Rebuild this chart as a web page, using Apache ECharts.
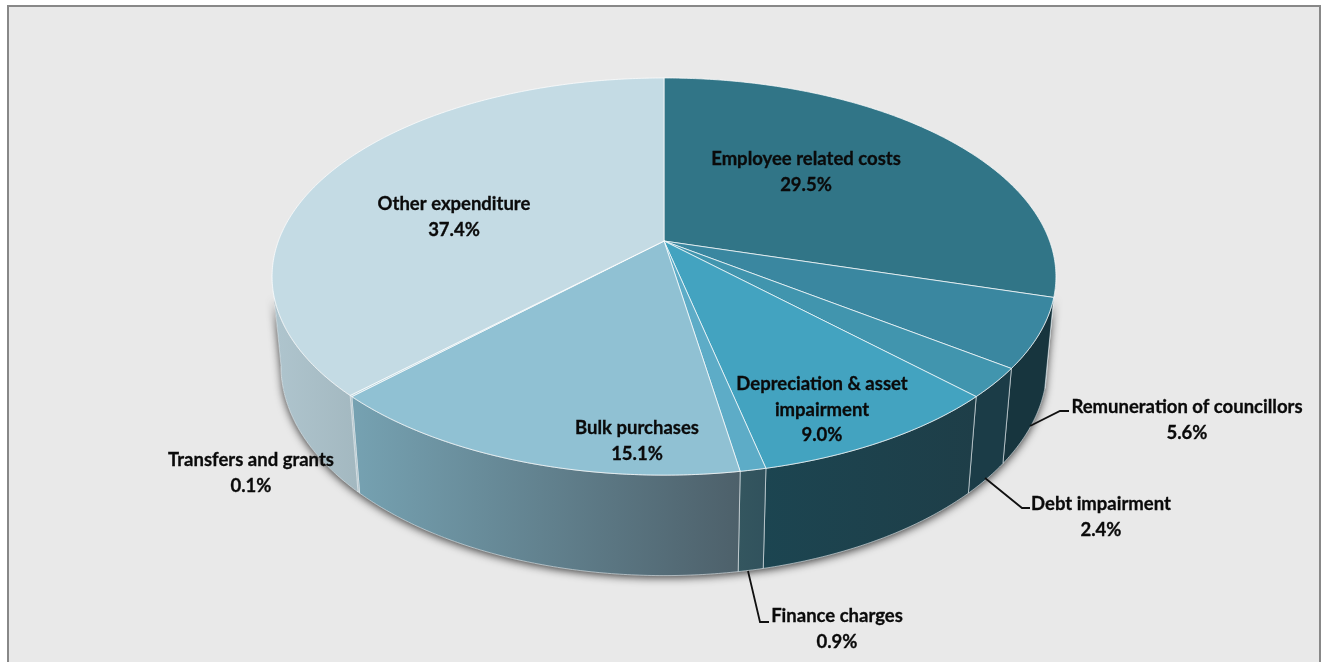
<!DOCTYPE html>
<html>
<head>
<meta charset="utf-8">
<style>html,body{margin:0;padding:0;background:#fff}#chart{width:1321px;height:662px}</style>
<script src="https://cdn.jsdelivr.net/npm/echarts@6/dist/echarts.min.js"></script>
</head>
<body>
<div id="chart"></div>
<script>
// Expenditure shares, clockwise from twelve o'clock
const sliceNames = ['Employee related costs', 'Remuneration of councillors', 'Debt impairment',
  'Depreciation & asset\nimpairment', 'Finance charges', 'Bulk purchases', 'Transfers and grants', 'Other expenditure'];
const sliceShares = [29.5, 5.6, 2.4, 9.0, 0.9, 15.1, 0.1, 37.4];

const topColors = ['#317587', '#3a87a0', '#4195ae', '#43a3c0', '#5dacc7', '#90c1d3', '#b5d2dc', '#c4dbe4'];
const wallLeftColors = ['#17353e', '#17353e', '#1b3c47', '#1c4551', '#34565f', '#76a2b2', '#a6bcc4', '#afc5ce'];
const wallRightColors = ['#17353e', '#17353e', '#1b3c47', '#1e3e48', '#31525d', '#4d606a', '#a6bcc4', '#a3b8c0'];

// Label anchors and their leader lines, in pixels
const labelCenters = [[806, 172], [1187, 420], [1101, 517], [822, 410], [837, 629], [637, 441], [251, 473], [454, 217]];
const leaderLines = [null, [[1030, 426], [1060, 411], [1069, 411]], [[985, 478], [1022, 508], [1030, 508]], null,
  [[748, 571], [760, 622], [769, 622]], null, null, null];

// Perspective camera for the drum: apex, radii, depth foreshortening and thickness
const apexX = 664, apexY = 241, radiusX = 385.6, radiusY = 192.2, foreshorten = 0.179, drop = 90, lowerFar = 0.0224;
const wallFrom = 100, wallTo = 260;

function project(deg, lower) {
  const a = deg * Math.PI / 180, u = Math.sin(a), v = Math.cos(a);
  const w = 1 + foreshorten * v + (lower ? lowerFar : 0);
  return [apexX + radiusX * u / w, apexY + (-radiusY * v + (lower ? drop : 0)) / w];
}
function arc(from, to, lower) {
  const n = Math.max(2, Math.ceil(Math.abs(to - from) / 0.5)), pts = [];
  for (let i = 0; i <= n; i++) pts.push(project(from + (to - from) * i / n, lower));
  return pts;
}

let running = 0;
const sliceSpans = sliceShares.map(s => { const span = [running, running + s]; running += s; return span; });
const toDeg = share => share * 3.6;

function renderWall(params, api) {
  const from = Math.max(toDeg(api.value(0)), wallFrom), to = Math.min(toDeg(api.value(1)), wallTo);
  if (to <= from) return { type: 'group', children: [] };
  const i = params.dataIndex;
  return {
    type: 'polygon',
    shape: { points: arc(from, to, false).concat(arc(to, from, true)) },
    style: {
      fill: new echarts.graphic.LinearGradient(0, 0, 1, 0, [
        { offset: 0, color: wallLeftColors[i] }, { offset: 1, color: wallRightColors[i] }]),
      stroke: 'rgba(235,242,245,0.6)', lineWidth: 1
    }
  };
}
function renderTop(params, api) {
  const i = params.dataIndex;
  return {
    type: 'polygon',
    shape: { points: [[apexX, apexY]].concat(arc(toDeg(api.value(0)), toDeg(api.value(1)), false)) },
    style: { fill: topColors[i], stroke: 'rgba(255,255,255,0.7)', lineWidth: 1 }
  };
}
function renderLabel(params, api) {
  const i = params.dataIndex, c = labelCenters[i], children = [];
  if (leaderLines[i]) {
    children.push({ type: 'polyline', shape: { points: leaderLines[i] },
      style: { stroke: '#111', lineWidth: 1.8, fill: null } });
  }
  children.push({ type: 'text', style: {
    x: c[0], y: c[1], text: sliceNames[i] + '\n' + api.value(1).toFixed(1) + '%',
    fill: '#0a0a0a', stroke: '#0a0a0a', lineWidth: 0.3,
    font: 'bold 18.5px Lato, sans-serif', lineHeight: 25.5, align: 'center', verticalAlign: 'middle'
  } });
  return { type: 'group', children };
}

const chart = echarts.init(document.getElementById('chart'), null, { renderer: 'canvas' });
chart.setOption({
  animation: false,
  backgroundColor: '#ffffff',
  graphic: [{
    type: 'rect', z: -10, silent: true,
    shape: { x: 8, y: 6, width: 1312, height: 720 },
    style: { fill: '#e9e9e9', stroke: '#888888', lineWidth: 2 }
  }, {
    // Soft shadow cast by the drum on the backdrop
    type: 'polygon', z: -5, silent: true,
    shape: { points: arc(wallFrom + 6, wallTo - 6, false).concat(arc(wallTo - 6, wallFrom + 6, true)) },
    style: { fill: '#3a4a50', shadowBlur: 8, shadowColor: 'rgba(0,0,0,0.75)', shadowOffsetY: 2 }
  }],
  series: [
    { type: 'custom', coordinateSystem: 'none', z: 2, silent: true, renderItem: renderWall, data: sliceSpans },
    { type: 'custom', coordinateSystem: 'none', z: 3, silent: true, renderItem: renderTop, data: sliceSpans },
    { type: 'custom', coordinateSystem: 'none', z: 4, silent: true, renderItem: renderLabel,
      data: sliceShares.map((s, i) => [i, s]) }
  ]
});
</script>
</body>
</html>
